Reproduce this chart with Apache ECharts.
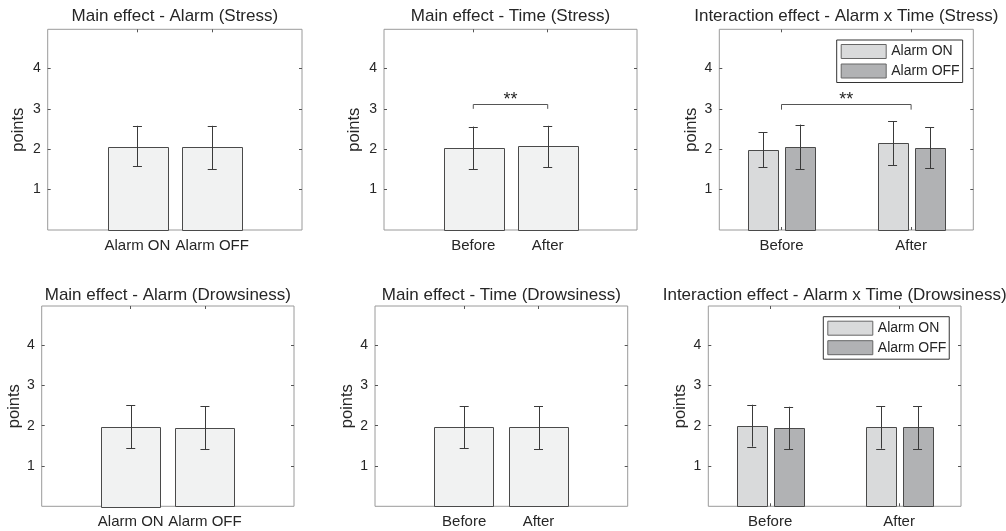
<!DOCTYPE html>
<html><head><meta charset="utf-8">
<script src="https://cdn.jsdelivr.net/npm/echarts@6/dist/echarts.min.js"></script>
<style>html,body{margin:0;padding:0;background:#fff}#c{width:1006px;height:531px}</style>
</head><body><div id="c"></div>
<script>
// ---------- data ----------
const alarmCats = ['Alarm ON', 'Alarm OFF'];
const timeCats = ['Before', 'After'];
const groupNames = ['Alarm ON', 'Alarm OFF'];
const yTickValues = [1, 2, 3, 4];
const panelTitles = [
  'Main effect - Alarm (Stress)', 'Main effect - Time (Stress)', 'Interaction effect - Alarm x Time (Stress)',
  'Main effect - Alarm (Drowsiness)', 'Main effect - Time (Drowsiness)', 'Interaction effect - Alarm x Time (Drowsiness)'
];
const yName = 'points';
const sigLabel = '**';

// Stress
const stressAlarmMean = [2.06, 2.05];
const stressAlarmLow  = [1.58, 1.51];
const stressAlarmHigh = [2.58, 2.58];
const stressTimeMean = [2.02, 2.08];
const stressTimeLow  = [1.51, 1.55];
const stressTimeHigh = [2.56, 2.58];
const stressOnMean  = [1.99, 2.15];
const stressOnLow   = [1.55, 1.61];
const stressOnHigh  = [2.42, 2.69];
const stressOffMean = [2.06, 2.04];
const stressOffLow  = [1.50, 1.53];
const stressOffHigh = [2.61, 2.54];
// Drowsiness
const drowAlarmMean = [1.98, 1.94];
const drowAlarmLow  = [1.44, 1.41];
const drowAlarmHigh = [2.51, 2.48];
const drowTimeMean = [1.96, 1.96];
const drowTimeLow  = [1.44, 1.41];
const drowTimeHigh = [2.48, 2.48];
const drowOnMean  = [1.99, 1.96];
const drowOnLow   = [1.48, 1.43];
const drowOnHigh  = [2.52, 2.48];
const drowOffMean = [1.94, 1.96];
const drowOffLow  = [1.41, 1.41];
const drowOffHigh = [2.47, 2.48];
// significance brackets: [fromCategory, toCategory, bracketTop, legBottom]
const sigStressTime = [1, 2, 3.11, 3.0];
const sigStressInter = [1, 2, 3.11, 2.98];

// ---------- styling / layout ----------
const FONT = "'Liberation Sans', Arial, Helvetica, sans-serif";
const TXT = '#262626';
const MAIN_FILL = '#f1f2f2', ON_FILL = '#d9dadb', OFF_FILL = '#b1b2b4';
const EDGE = '#4a4a4a', ERR = '#3a3a3a';
const YMAX = 4.97;

const grids = [
  {left: 47.7, top: 29.3, width: 254.3, height: 200.7},
  {left: 384, top: 29.3, width: 253, height: 200.7},
  {left: 719.3, top: 29.3, width: 254, height: 200.7},
  {left: 41.7, top: 306, width: 252.3, height: 200.3},
  {left: 375, top: 306, width: 252.7, height: 200.3},
  {left: 708.3, top: 306, width: 252.7, height: 200.3}
];
const xRanges = [[-0.2, 3.2], [-0.2, 3.2], [0.52, 2.48], [-0.2, 3.2], [-0.2, 3.2], [0.52, 2.48]];
const nameGaps = [21, 21, 19, 18, 19, 19];
const panelCats = [alarmCats, timeCats, timeCats, alarmCats, timeCats, timeCats];

function toData(mean, low, high) {
  return mean.map((m, i) => [i + 1, m, low[i], high[i]]);
}

function barRender(offset, width, fill) {
  return function (params, api) {
    const x = api.value(0) + offset;
    const m = api.value(1), lo = api.value(2), hi = api.value(3);
    const p0 = api.coord([x - width / 2, m]);
    const p1 = api.coord([x + width / 2, 0]);
    const c = api.coord([x, lo]);
    const d = api.coord([x, hi]);
    const cap = 4.5;
    return {
      type: 'group',
      children: [
        {type: 'rect', shape: {x: Math.round(p0[0]) + 0.5, y: Math.round(p0[1]) + 0.5, width: Math.round(p1[0] - p0[0]), height: Math.round(p1[1] - p0[1])},
          style: {fill: fill, stroke: EDGE, lineWidth: 1}},
        {type: 'line', shape: {x1: Math.round(c[0]) + 0.5, y1: c[1], x2: Math.round(c[0]) + 0.5, y2: d[1]}, style: {stroke: ERR, lineWidth: 1}},
        {type: 'line', shape: {x1: c[0] - cap, y1: Math.round(c[1]) + 0.5, x2: c[0] + cap, y2: Math.round(c[1]) + 0.5}, style: {stroke: ERR, lineWidth: 1}},
        {type: 'line', shape: {x1: d[0] - cap, y1: Math.round(d[1]) + 0.5, x2: d[0] + cap, y2: Math.round(d[1]) + 0.5}, style: {stroke: ERR, lineWidth: 1}}
      ]
    };
  };
}

function sigRender(params, api) {
  const a = api.coord([api.value(0), api.value(2)]);
  const b = api.coord([api.value(1), api.value(2)]);
  const al = api.coord([api.value(0), api.value(3)]);
  const bl = api.coord([api.value(1), api.value(3)]);
  const y = Math.round(a[1]) + 0.5;
  return {
    type: 'group',
    children: [
      {type: 'polyline', shape: {points: [[al[0], al[1]], [a[0], y], [b[0], y], [bl[0], bl[1]]]}, style: {stroke: '#555', lineWidth: 1, fill: null}},
      {type: 'text', style: {text: sigLabel, x: (a[0] + b[0]) / 2, y: y - 4, align: 'center', verticalAlign: 'middle', font: '18px ' + FONT, fill: TXT}}
    ]
  };
}

const option = {
  backgroundColor: '#fff',
  animation: false,
  textStyle: {fontFamily: FONT},
  title: [], grid: [], xAxis: [], yAxis: [], series: [], legend: []
};

grids.forEach((g, i) => {
  option.grid.push({left: g.left, top: g.top, width: g.width, height: g.height, show: true, borderColor: '#9a9a9a', borderWidth: 1, backgroundColor: 'transparent'});
  option.title.push({text: panelTitles[i], left: g.left + g.width / 2, top: i < 3 ? 8 : 287, textAlign: 'center',
    textStyle: {fontFamily: FONT, fontSize: 17, fontWeight: 'normal', color: TXT}, padding: 0});
  const cats = panelCats[i];
  const catPos = cats.map((c, k) => k + 1);
  option.xAxis.push({
    type: 'value', gridIndex: i, min: xRanges[i][0], max: xRanges[i][1], position: 'bottom',
    splitLine: {show: false}, axisLine: {show: false, onZero: false},
    axisTick: {show: true, inside: true, length: 3, lineStyle: {color: '#555'}, customValues: catPos},
    axisLabel: {show: true, customValues: catPos, formatter: v => cats[Math.round(v) - 1] || '', color: TXT, fontSize: 15, fontFamily: FONT, margin: 8}
  });
  option.xAxis.push({
    type: 'value', gridIndex: i, min: xRanges[i][0], max: xRanges[i][1], position: 'top',
    splitLine: {show: false}, axisLine: {show: false, onZero: false}, axisLabel: {show: false},
    axisTick: {show: true, inside: true, length: 3, lineStyle: {color: '#555'}, customValues: catPos}
  });
  option.yAxis.push({
    type: 'value', gridIndex: i, min: 0, max: YMAX, position: 'left',
    name: yName, nameLocation: 'middle', nameGap: nameGaps[i], nameTextStyle: {fontSize: 16.5, color: TXT, fontFamily: FONT},
    splitLine: {show: false}, axisLine: {show: false, onZero: false},
    axisTick: {show: true, inside: true, length: 3, lineStyle: {color: '#555'}, customValues: yTickValues},
    axisLabel: {customValues: yTickValues, color: TXT, fontSize: 14, fontFamily: FONT, margin: 7}
  });
  option.yAxis.push({
    type: 'value', gridIndex: i, min: 0, max: YMAX, position: 'right',
    splitLine: {show: false}, axisLine: {show: false, onZero: false}, axisLabel: {show: false},
    axisTick: {show: true, inside: true, length: 3, lineStyle: {color: '#555'}, customValues: yTickValues}
  });
});

function addMain(i, mean, low, high) {
  option.series.push({type: 'custom', xAxisIndex: 2 * i, yAxisIndex: 2 * i, renderItem: barRender(0, 0.8, MAIN_FILL),
    data: toData(mean, low, high), itemStyle: {color: MAIN_FILL}, clip: false, z: 2});
}
function addGrouped(i, onM, onL, onH, offM, offL, offH) {
  option.series.push({type: 'custom', name: groupNames[0], xAxisIndex: 2 * i, yAxisIndex: 2 * i,
    renderItem: barRender(-0.143, 0.229, ON_FILL), data: toData(onM, onL, onH),
    itemStyle: {color: ON_FILL, borderColor: '#666', borderWidth: 1}, z: 2});
  option.series.push({type: 'custom', name: groupNames[1], xAxisIndex: 2 * i, yAxisIndex: 2 * i,
    renderItem: barRender(0.143, 0.229, OFF_FILL), data: toData(offM, offL, offH),
    itemStyle: {color: OFF_FILL, borderColor: '#666', borderWidth: 1}, z: 2});
}
function addSig(i, s) {
  option.series.push({type: 'custom', xAxisIndex: 2 * i, yAxisIndex: 2 * i, renderItem: sigRender, data: [s], z: 3, silent: true});
}

addMain(0, stressAlarmMean, stressAlarmLow, stressAlarmHigh);
addMain(1, stressTimeMean, stressTimeLow, stressTimeHigh);
addSig(1, sigStressTime);
addGrouped(2, stressOnMean, stressOnLow, stressOnHigh, stressOffMean, stressOffLow, stressOffHigh);
addSig(2, sigStressInter);
addMain(3, drowAlarmMean, drowAlarmLow, drowAlarmHigh);
addMain(4, drowTimeMean, drowTimeLow, drowTimeHigh);
addGrouped(5, drowOnMean, drowOnLow, drowOnHigh, drowOffMean, drowOffLow, drowOffHigh);

const legendBoxes = [{left: 836.7, top: 40}, {left: 823.3, top: 316.7}];
legendBoxes.forEach(b => {
  option.legend.push({
    data: groupNames, orient: 'vertical', left: b.left, top: b.top, icon: 'rect',
    itemWidth: 45, itemHeight: 14, itemGap: 4.5, padding: [4, 3, 4, 4],
    backgroundColor: '#fff', borderColor: '#333', borderWidth: 1, borderRadius: 0,
    selectedMode: false, textStyle: {fontSize: 14, color: TXT, fontFamily: FONT},
    itemStyle: {borderColor: '#666', borderWidth: 1}
  });
});

const chart = echarts.init(document.getElementById('c'), null, {renderer: 'canvas'});
chart.setOption(option);
</script></body></html>
